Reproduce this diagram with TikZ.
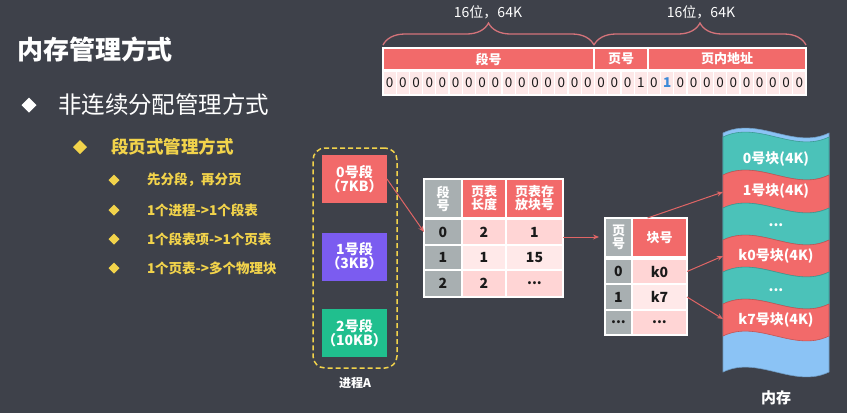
\documentclass[tikz,border=0pt]{standalone}
\usepackage{fontspec}
\setmainfont{Noto Sans CJK SC}
\usetikzlibrary{shapes.geometric,arrows.meta,decorations.pathreplacing}
\definecolor{bg}{HTML}{3E414A}
\definecolor{hred}{HTML}{F26A6A}
\definecolor{segpurple}{HTML}{7B5CF0}
\definecolor{seggreen}{HTML}{20BF8E}
\definecolor{memteal}{HTML}{4BC2B9}
\definecolor{memblue}{HTML}{8BC3F5}
\definecolor{cellgray}{HTML}{A8AFB1}
\definecolor{pinkA}{HTML}{FFD5D5}
\definecolor{pinkB}{HTML}{FFE9E9}
\definecolor{bitbg}{HTML}{FDE8E8}
\definecolor{bitblue}{HTML}{3D8AD8}
\definecolor{bracered}{HTML}{D4737A}
\definecolor{arrowred}{HTML}{E06565}
\definecolor{ylw}{HTML}{F2D34B}
\definecolor{ink}{HTML}{1A1A1A}
\newcommand\fs[1]{\fontsize{#1}{#1}\selectfont}
\newcommand\memband[3]{%
  \path[fill=#3, draw=#3!80!black, line width=0.6pt]
    (723,#1) .. controls (758,{#1-17}) and (794,{#1+17}) .. (829,#1)
    -- (829,#2) .. controls (794,{#2+17}) and (758,{#2-17}) .. (723,#2) -- cycle;}
\begin{document}
\begin{tikzpicture}[x=1pt,y=-1pt,
  every node/.style={inner sep=0pt, outer sep=0pt},
  bulletw/.style={diamond, aspect=1, fill=white, minimum width=15pt, minimum height=15pt},
  bullety/.style={diamond, aspect=1, fill=ylw, minimum width=#1, minimum height=#1},
  cell/.style={rectangle, draw=white, line width=1.2pt, align=center, text=ink, font=\fs{14}\bfseries},
  hcell/.style={cell, fill=hred, text=white, font=\fs{13}\bfseries},
  gcell/.style={cell, fill=cellgray},
  bitcell/.style={cell, fill=bitbg, minimum width=13.22pt, minimum height=24pt, font=\fs{13.5}},
  segbox/.style={rectangle, minimum width=65pt, minimum height=48pt, text=white, align=center, font=\fs{14}\bfseries},
  brace/.style={draw=bracered, line width=1.3pt, decorate, decoration={brace, amplitude=22pt}},
  arr/.style={draw=arrowred, line width=1pt, -{Stealth[length=6pt,width=5pt]}},
  memlbl/.style={text=white, font=\fs{14}\bfseries},
]
\useasboundingbox[fill=bg] (0,0) rectangle (847,413);

% ---- left text ----
\node[anchor=west, text=white, font=\fs{26}\bfseries] (title) at (17,49) {内存管理方式};
\node[bulletw] (d1) at (29,105) {};
\node[anchor=west, text=white, font=\fs{23.5}] (t1) at (58,105) {非连续分配管理方式};
\node[bullety=14pt] (d2) at (80,147) {};
\node[anchor=west, text=ylw, font=\fs{17.5}\bfseries] (t2) at (111,147) {段页式管理方式};
\node[bullety=11pt] (d3) at (114,180) {};
\node[anchor=west, text=ylw, font=\fs{13.5}\bfseries] (t3) at (147,180) {先分段，再分页};
\node[bullety=11pt] (d4) at (114,210) {};
\node[anchor=west, text=ylw, font=\fs{13.5}\bfseries] (t4) at (147,210) {1个进程->1个段表};
\node[bullety=11pt] (d5) at (114,239) {};
\node[anchor=west, text=ylw, font=\fs{13.5}\bfseries] (t5) at (147,239) {1个段表项->1个页表};
\node[bullety=11pt] (d6) at (114,268) {};
\node[anchor=west, text=ylw, font=\fs{13.5}\bfseries] (t6) at (147,268) {1个页表->多个物理块};

% ---- address bar ----
\node[hcell, minimum width=211pt, minimum height=22pt] (h1) at (488.5,59) {段号};
\node[hcell, minimum width=54pt, minimum height=22pt] (h2) at (621,59) {页号};
\node[hcell, minimum width=158pt, minimum height=22pt] (h3) at (727,59) {页内地址};
\foreach \b [count=\i from 0] in {0,0,0,0,0,0,0,0,0,0,0,0,0,0,0,0,0,0,0,1,0,1,0,0,0,0,0,0,0,0,0,0}{
  \node[bitcell] (b\i) at ({383+13.21875*(\i+0.5)},83) {\ifnum\i=21\color{bitblue}\bfseries\fi\b};
}
\draw[brace] ([yshift=3pt]h1.north west) -- ([yshift=3pt]h1.north east);
\draw[brace] ([yshift=3pt]h2.north west) -- ([yshift=3pt]h3.north east);
\node[text=white, font=\fs{14}] (bl1) at (488,12) {16位，64K};
\node[text=white, font=\fs{14}] (bl2) at (701,12) {16位，64K};

% ---- process A ----
\node[draw=ylw, dashed, dash pattern=on 5pt off 3pt, line width=1.5pt, rounded corners=12pt,
      minimum width=84pt, minimum height=220pt] (procA) at (355,258) {};
\node[segbox, fill=hred] (seg0) at (354.5,179) {0号段\\[0pt]（7KB）};
\node[segbox, fill=segpurple] (seg1) at (354.5,256.5) {1号段\\[0pt]（3KB）};
\node[segbox, fill=seggreen] (seg2) at (354.5,333) {2号段\\[0pt]（10KB）};
\node[text=white, font=\fs{12}\bfseries] (procAl) at (355,383) {进程A};

% ---- segment table ----
\node[gcell, text=white, font=\fs{13}\bfseries, minimum width=38pt, minimum height=39pt] (s00) at (443,198.5) {段\\号};
\node[hcell, minimum width=44pt, minimum height=39pt] (s01) at (484,198.5) {页表\\长度};
\node[hcell, minimum width=57pt, minimum height=39pt] (s02) at (534.5,198.5) {页表存\\放块号};
\node[gcell, minimum width=38pt, minimum height=26pt] (s10) at (443,232) {0};
\node[cell, fill=pinkA, minimum width=44pt, minimum height=26pt] (s11) at (484,232) {2};
\node[cell, fill=pinkA, minimum width=57pt, minimum height=26pt] (s12) at (534.5,232) {1};
\node[gcell, minimum width=38pt, minimum height=25pt] (s20) at (443,257.5) {1};
\node[cell, fill=pinkB, minimum width=44pt, minimum height=25pt] (s21) at (484,257.5) {1};
\node[cell, fill=pinkB, minimum width=57pt, minimum height=25pt] (s22) at (534.5,257.5) {15};
\node[gcell, minimum width=38pt, minimum height=27pt] (s30) at (443,283.5) {2};
\node[cell, fill=pinkA, minimum width=44pt, minimum height=27pt] (s31) at (484,283.5) {2};
\node[cell, fill=pinkA, minimum width=57pt, minimum height=27pt] (s32) at (534.5,283.5) {...};

% ---- page table ----
\node[gcell, text=white, font=\fs{13}\bfseries, minimum width=27pt, minimum height=39pt] (p00) at (618.5,237.5) {页\\号};
\node[hcell, minimum width=55pt, minimum height=39pt] (p01) at (659.5,237.5) {块号};
\node[gcell, minimum width=27pt, minimum height=25pt] (p10) at (618.5,271.5) {0};
\node[cell, fill=pinkA, minimum width=55pt, minimum height=25pt] (p11) at (659.5,271.5) {k0};
\node[gcell, minimum width=27pt, minimum height=26pt] (p20) at (618.5,297) {1};
\node[cell, fill=pinkB, minimum width=55pt, minimum height=26pt] (p21) at (659.5,297) {k7};
\node[gcell, minimum width=27pt, minimum height=25pt] (p30) at (618.5,322.5) {...};
\node[cell, fill=pinkA, minimum width=55pt, minimum height=25pt] (p31) at (659.5,322.5) {...};

% ---- memory ----
\memband{133}{372}{memblue}
\memband{137}{175}{memteal}
\memband{175}{208}{hred}
\memband{208}{240}{memteal}
\memband{240}{272}{hred}
\memband{272}{304}{memteal}
\memband{304}{336}{hred}
\node[memlbl] (m0) at (776,159) {0号块(4K)};
\node[memlbl] (m1) at (776,191) {1号块(4K)};
\node[memlbl] (m2) at (776,225) {...};
\node[memlbl] (m3) at (776,256) {k0号块(4K)};
\node[memlbl] (m4) at (776,290) {...};
\node[memlbl] (m5) at (776,320) {k7号块(4K)};
\node[text=white, font=\fs{15}\bfseries] (mem) at (776,398) {内存};
\coordinate (m1in) at (723,192);
\coordinate (m3in) at (723,256);
\coordinate (m5in) at (723,319);

% ---- connectors ----
\draw[arr] (seg0.east) -- (s10.west);
\draw[arr] ([yshift=-5pt]s12.east) -- ([xshift=-6pt,yshift=-5pt]p00.west |- s12.east);
\draw[arr] ([xshift=-12pt]p01.north) -- (m1in);
\draw[arr] (p11.east) -- (m3in);
\draw[arr] (p21.east) -- (m5in);
\end{tikzpicture}
\end{document}
